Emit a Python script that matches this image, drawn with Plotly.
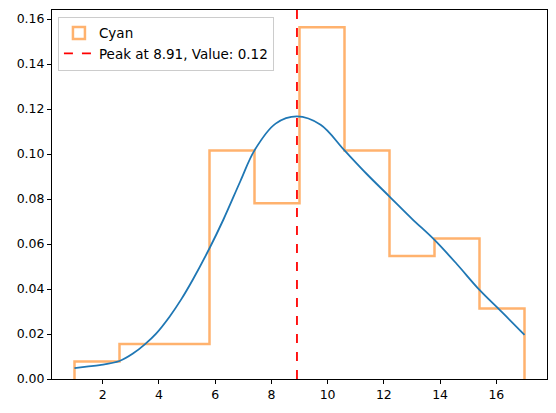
import plotly.graph_objects as go

# Histogram (density) bin edges and heights
bin_edges = [1.0, 2.6, 4.2, 5.8, 7.4, 9.0, 10.6, 12.2, 13.8, 15.4, 17.0]
densities = [0.0078, 0.0156, 0.0156, 0.1016, 0.0781, 0.1563, 0.1016, 0.0547, 0.0625, 0.0313]

# KDE curve
kde_x = [1.0, 1.43, 1.9, 2.6, 3.09, 3.5, 3.91, 4.38, 4.8, 5.2, 5.8, 6.3, 6.9, 7.4,
         8.15, 8.91, 9.75, 10.6, 11.4, 12.2, 13.0, 13.8, 14.6, 15.4, 16.2, 17.0]
kde_y = [0.0048, 0.0055, 0.0062, 0.0080, 0.0114, 0.0154, 0.0203, 0.0277, 0.0355,
         0.0440, 0.0581, 0.0710, 0.0880, 0.1016, 0.1135, 0.1167, 0.1130,
         0.1016, 0.0910, 0.0811, 0.0712, 0.0618, 0.0510, 0.0396, 0.0297, 0.0196]

peak_x = 8.91
peak_val = 0.12
hist_label = "Cyan"
peak_label = f"Peak at {peak_x:.2f}, Value: {peak_val:.2f}"

orange = "rgba(255,127,14,0.6)"

step_x = [bin_edges[0]] + bin_edges[:-1] + [bin_edges[-1]]
step_y = [0] + densities + [0]

fig = go.Figure()
fig.add_trace(go.Scatter(x=step_x, y=step_y, mode="lines", line_shape="hv",
                         line=dict(color=orange, width=2.5), showlegend=False,
                         hoverinfo="skip"))
fig.add_trace(go.Scatter(x=kde_x, y=kde_y, mode="lines", line_shape="spline",
                         line=dict(color="#1f77b4", width=1.8, smoothing=1.0),
                         showlegend=False))
fig.add_trace(go.Scatter(x=[peak_x, peak_x], y=[0, 0.2], mode="lines",
                         line=dict(color="red", width=1.8, dash="dash"),
                         name=peak_label, showlegend=False))
# legend entries
fig.add_trace(go.Bar(x=[None], y=[None], name=hist_label,
                     marker=dict(color="rgba(255,255,255,0)",
                                 line=dict(color=orange, width=2.5))))
fig.add_trace(go.Scatter(x=[None], y=[None], mode="lines",
                         line=dict(color="red", width=1.8, dash="dash"),
                         name=peak_label))

axis_common = dict(showline=True, mirror=True, linecolor="black", linewidth=1,
                   ticks="outside", ticklen=4, tickcolor="black", tickwidth=1,
                   showgrid=False, zeroline=False,
                   tickfont=dict(family="DejaVu Sans", size=12.5, color="black"))

fig.update_layout(
    width=556, height=413,
    margin=dict(l=52, r=9, t=10, b=34),
    plot_bgcolor="white", paper_bgcolor="white",
    font=dict(family="DejaVu Sans", size=12.5, color="black"),
    xaxis=dict(range=[0.2, 17.8], tickvals=[2, 4, 6, 8, 10, 12, 14, 16], **axis_common),
    yaxis=dict(range=[0, 0.164], tickvals=[0, 0.02, 0.04, 0.06, 0.08, 0.10, 0.12, 0.14, 0.16],
               tickformat=".2f", **axis_common),
    legend=dict(x=0.012, y=0.982, xanchor="left", yanchor="top",
                bgcolor="rgba(255,255,255,0.8)", bordercolor="#cccccc", borderwidth=1,
                font=dict(family="DejaVu Sans", size=13.5), tracegroupgap=0,
                itemwidth=30),
    showlegend=True,
)

fig.write_html("out.html")
